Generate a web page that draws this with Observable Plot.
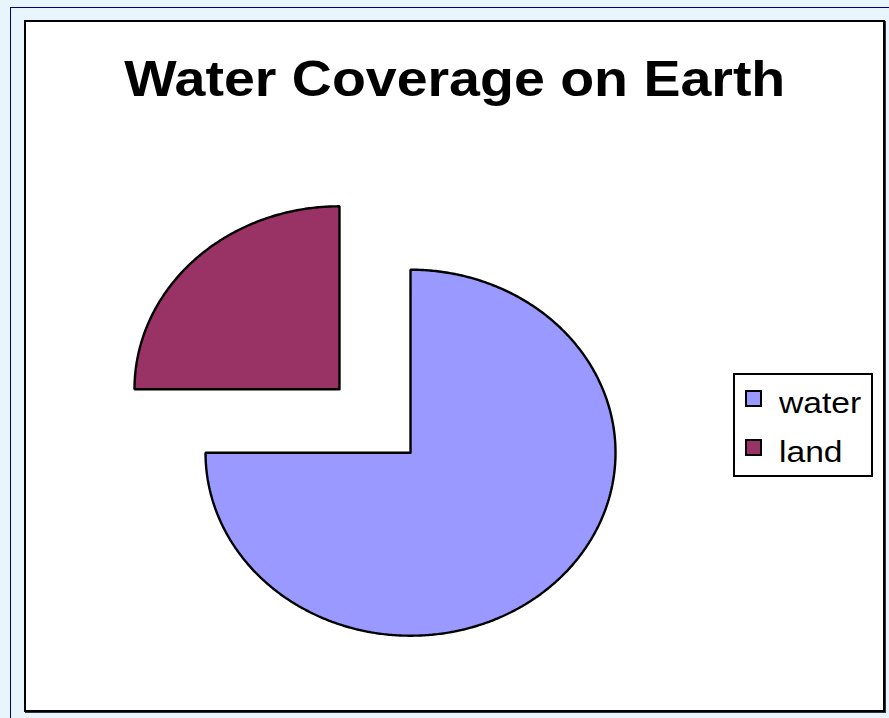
<!DOCTYPE html>
<html>
<head>
<meta charset="utf-8">
<script src="https://cdn.jsdelivr.net/npm/d3@7"></script>
<script src="https://cdn.jsdelivr.net/npm/@observablehq/plot@0.6"></script>
<style>
  html, body { margin: 0; padding: 0; background: #e8f4fe; }
  #page { position: relative; width: 889px; height: 718px; overflow: hidden; background: #e8f4fe; font-family: "Liberation Sans", Arial, sans-serif; }
  #navyTop { position: absolute; left: 10px; top: 7px; width: 879px; height: 1px; background: #000080; }
  #navyLeft { position: absolute; left: 10px; top: 7px; width: 1px; height: 711px; background: #000080; }
  #box { position: absolute; left: 24px; top: 20px; width: 857px; height: 688px; background: #fff; border: 2px solid #000; box-shadow: 1px 1px 0 #333; }
  #title { position: absolute; left: 24px; top: 50px; width: 862px; text-align: center; font-weight: bold; font-size: 50px; line-height: 58px; color: #000; }
  #title span { display: inline-block; transform: scaleX(1.11); }
  #chart { position: absolute; left: 0; top: 0; }
  #legend { position: absolute; left: 733px; top: 373px; width: 136px; height: 100px; border: 2px solid #000; background: #fff; }
  .item { position: absolute; left: 10px; height: 30px; }
  .sw { position: absolute; left: 0; top: 1px; width: 13px; height: 13px; border: 2px solid #000; }
  .lab { position: absolute; left: 34px; top: -3px; font-size: 30px; line-height: 34px; white-space: nowrap; transform: scaleX(1.12); transform-origin: left center; }
</style>
</head>
<body>
<div id="page">
  <div id="navyTop"></div>
  <div id="navyLeft"></div>
  <div id="box"></div>
  <div id="title"><span>Water Coverage on Earth</span></div>
  <div id="chart"></div>
  <div id="legend"></div>
</div>
<script>
const categories = ["water", "land"];
const values = [75, 25];
const colors = ["#9999FF", "#993366"];

// pie geometry (pixel frame of the chart)
const cx = 374.5, cy = 420.5, rx = 205, ry = 183, explode = 0.245;

const arcs = d3.pie().sort(null).value(d => d)(values);
const slices = arcs.map((a, i) => {
  const mid = (a.startAngle + a.endAngle) / 2;
  const ox = explode * Math.sin(mid), oy = explode * Math.cos(mid);
  const pts = [{x: ox, y: oy}];
  const n = Math.max(2, Math.ceil((a.endAngle - a.startAngle) / (Math.PI / 360)));
  for (let k = 0; k <= n; k++) {
    const t = a.startAngle + (a.endAngle - a.startAngle) * k / n;
    pts.push({x: ox + Math.sin(t), y: oy + Math.cos(t)});
  }
  pts.push({x: ox, y: oy});
  return {name: categories[i], color: colors[i], pts};
});

const plot = Plot.plot({
  width: 889,
  height: 718,
  margin: 0,
  x: {domain: [-1, 1], range: [cx - rx, cx + rx], axis: null},
  y: {domain: [-1, 1], range: [cy + ry, cy - ry], axis: null},
  style: {background: "transparent", overflow: "visible"},
  marks: slices.map(s => Plot.line(s.pts, {
    x: "x", y: "y", fill: s.color, stroke: "#000", strokeWidth: 2.4,
    strokeLinejoin: "miter", curve: "linear", clip: false
  }))
});
document.getElementById("chart").appendChild(plot);

const legend = document.getElementById("legend");
categories.forEach((c, i) => {
  const item = document.createElement("div");
  item.className = "item";
  item.style.top = (14 + i * 49) + "px";
  const sw = document.createElement("div");
  sw.className = "sw";
  sw.style.background = colors[i];
  const lab = document.createElement("div");
  lab.className = "lab";
  lab.textContent = c;
  item.appendChild(sw);
  item.appendChild(lab);
  legend.appendChild(item);
});
</script>
</body>
</html>
